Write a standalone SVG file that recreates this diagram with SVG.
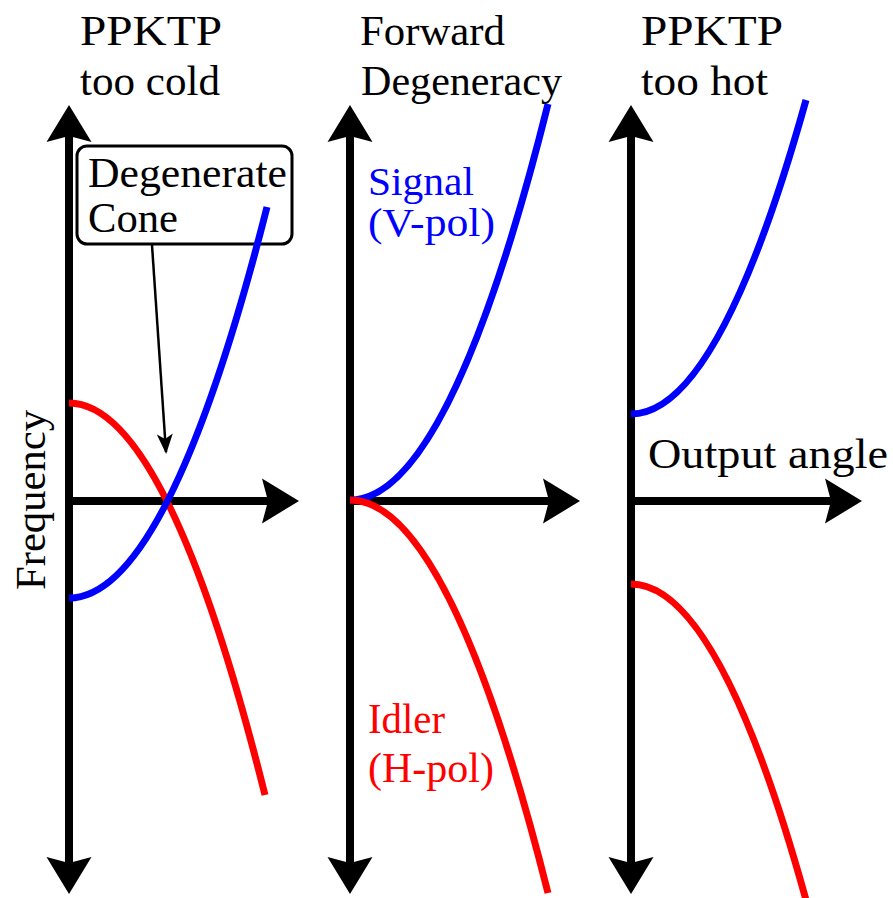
<svg xmlns="http://www.w3.org/2000/svg" width="893" height="898" viewBox="0 0 893 898">
<defs>
<style>
.t{font-size:43px;fill:#000}
.axis{stroke:#000;stroke-width:8;fill:none}
.sig{stroke:#0000ff;stroke-width:7;fill:none}
.idl{stroke:#ff0000;stroke-width:7;fill:none}
.blue{fill:#0000ff}
.red{fill:#ff0000}
.small{font-size:40px}
</style>
<path id="ah" d="M0,0 L22.5,37 L0,31 L-22.5,37 Z" fill="#000"/>
<marker id="sh" markerUnits="userSpaceOnUse" markerWidth="24" markerHeight="20" viewBox="-2 -10 24 20" refX="18" refY="0" orient="auto">
<path d="M20,0 L0,-8 L5,0 L0,8 Z" fill="#000"/>
</marker>
</defs>
<rect width="893" height="898" fill="#fff"/>
<g id="connectors">
<line class="axis" x1="69" y1="134" x2="69" y2="865"/>
<line class="axis" x1="69" y1="501" x2="270" y2="501"/>
<use href="#ah" transform="translate(69,105)"/>
<use href="#ah" transform="translate(69,894) rotate(180)"/>
<use href="#ah" transform="translate(299,501) rotate(90)"/>
<line class="axis" x1="350" y1="134" x2="350" y2="865"/>
<line class="axis" x1="350" y1="501" x2="551" y2="501"/>
<use href="#ah" transform="translate(350,105)"/>
<use href="#ah" transform="translate(350,894) rotate(180)"/>
<use href="#ah" transform="translate(580,501) rotate(90)"/>
<line class="axis" x1="631" y1="134" x2="631" y2="865"/>
<line class="axis" x1="631" y1="501" x2="833" y2="501"/>
<use href="#ah" transform="translate(631,105)"/>
<use href="#ah" transform="translate(631,894) rotate(180)"/>
<use href="#ah" transform="translate(862,501) rotate(90)"/>
<line x1="152" y1="245" x2="166" y2="452" stroke="#000" stroke-width="2.5" marker-end="url(#sh)"/>
</g>
<g font-family="'Liberation Serif', 'DejaVu Serif', serif">
<g id="degenerate-cone">
<rect x="77" y="146" width="215" height="98" rx="10" ry="10" fill="#fff" stroke="#000" stroke-width="3"/>
<text class="t" x="88" y="187" textLength="199" lengthAdjust="spacingAndGlyphs">Degenerate</text>
<text class="t" x="88" y="232" textLength="90" lengthAdjust="spacingAndGlyphs">Cone</text>
</g>
<g id="label-cold">
<text class="t" x="80" y="45" textLength="142" lengthAdjust="spacingAndGlyphs">PPKTP</text>
<text class="t" x="80" y="95" textLength="140" lengthAdjust="spacingAndGlyphs">too cold</text>
</g>
<g id="label-forward">
<text class="t" x="360" y="45" textLength="145" lengthAdjust="spacingAndGlyphs">Forward</text>
<text class="t" x="361" y="95" textLength="201" lengthAdjust="spacingAndGlyphs">Degeneracy</text>
</g>
<g id="label-hot">
<text class="t" x="641" y="45" textLength="142" lengthAdjust="spacingAndGlyphs">PPKTP</text>
<text class="t" x="641" y="95" textLength="127" lengthAdjust="spacingAndGlyphs">too hot</text>
</g>
<g id="label-signal">
<text class="t blue small" x="368" y="195" textLength="106" lengthAdjust="spacingAndGlyphs">Signal</text>
<text class="t blue small" x="368" y="236" textLength="127" lengthAdjust="spacingAndGlyphs">(V-pol)</text>
</g>
<g id="label-idler">
<text class="t red" x="368" y="733" textLength="77" lengthAdjust="spacingAndGlyphs">Idler</text>
<text class="t red" x="368" y="782" textLength="126" lengthAdjust="spacingAndGlyphs">(H-pol)</text>
</g>
<g id="label-output">
<text class="t" x="648" y="468" textLength="240" lengthAdjust="spacingAndGlyphs">Output angle</text>
</g>
<g id="label-frequency">
<text class="t" transform="translate(45,590) rotate(-90)" x="0" y="0" textLength="180" lengthAdjust="spacingAndGlyphs">Frequency</text>
</g>
</g>
<g id="curves">
<path class="idl" d="M69,403 Q167,403 265,795"/>
<path class="sig" d="M69,598 Q168,598 267,207"/>
<path class="sig" d="M350,500 Q449,500 548,104"/>
<path class="idl" d="M350,500 Q449,500 548,893"/>
<path class="sig" d="M631,414 Q718.5,414 806,100"/>
<path class="idl" d="M631,584 Q718.5,584 806,900"/>
</g>
</svg>
